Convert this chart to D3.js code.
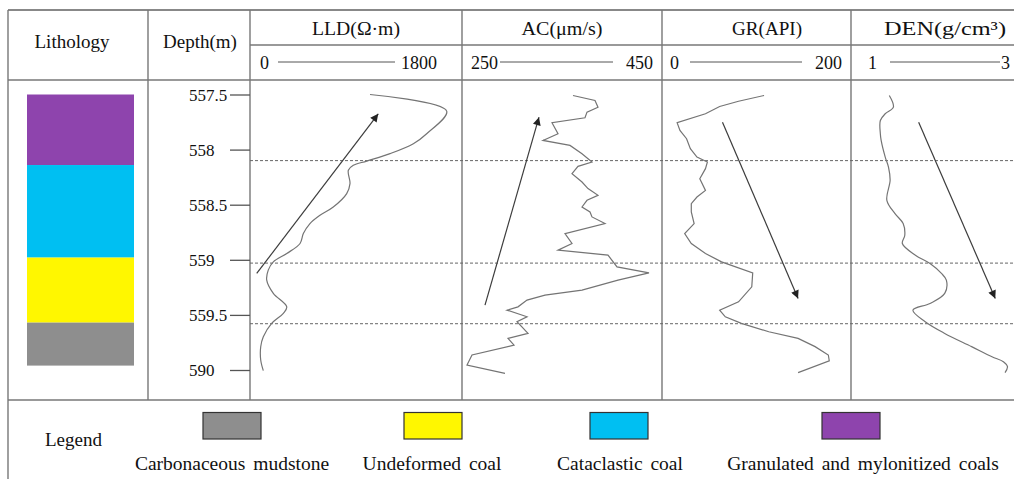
<!DOCTYPE html>
<html>
<head>
<meta charset="utf-8">
<script src="https://d3js.org/d3.v7.min.js"></script>
<style>
  body { margin: 0; background: #fff; }
  text { font-family: "Liberation Serif", "Times New Roman", "DejaVu Serif", serif; fill: #111; }
  .grid { stroke: #777; stroke-width: 1.4; fill: none; }
  .curve { fill: none; stroke: #747474; stroke-width: 1.2; }
  .arrow { stroke: #3c3c3c; stroke-width: 1.2; }
  .dash { stroke: #666; stroke-width: 1; stroke-dasharray: 3 2; }
</style>
</head>
<body>
<svg width="1014" height="479"></svg>
<script>
// ---- data ----
const depthTicks = [557.5, 558, 558.5, 559, 559.5, 560];
const depthTickLabels = ["557.5", "558", "558.5", "559", "559.5", "590"];
const boundaryDepths = [558.1, 559.03, 559.58];

const lithNames = ["Granulated and mylonitized coals", "Cataclastic coal", "Undeformed coal", "Carbonaceous mudstone"];
const lithFrom = [557.5, 558.14, 558.98, 559.57];
const lithTo = [558.14, 558.98, 559.57, 559.96];
const legendOrder = ["Carbonaceous mudstone", "Undeformed coal", "Cataclastic coal", "Granulated and mylonitized coals"];

const trackNames = ["LLD(\u03A9\u00B7m)", "AC(\u03BCm/s)", "GR(API)", "DEN(g/cm\u00B3)"];
const trackMin = [0, 250, 0, 1];
const trackMax = [1800, 450, 200, 3];

const lldDepth = [557.5, 557.651, 557.856, 557.947, 558.037, 558.104, 558.143, 558.188, 558.309, 558.399, 558.521, 558.596, 558.671, 558.762, 558.852, 558.943, 559.019, 559.094, 559.185, 559.305, 559.427, 559.486, 559.577, 559.698, 559.789, 559.909, 560.006];
const lldValue = [1019, 1670, 1500, 1387, 1189, 991, 877, 835, 849, 821, 707, 594, 509, 453, 425, 312, 198, 155, 142, 198, 312, 283, 184, 113, 91, 91, 113];

const acDepth = [557.509, 557.554, 557.615, 557.660, 557.711, 557.756, 557.856, 557.917, 557.962, 558.037, 558.113, 558.152, 558.218, 558.294, 558.354, 558.415, 558.460, 558.521, 558.566, 558.611, 558.671, 558.762, 558.852, 558.913, 558.958, 559.064, 559.119, 559.185, 559.275, 559.321, 559.366, 559.427, 559.457, 559.517, 559.562, 559.668, 559.713, 559.774, 559.864, 559.955, 560.030];
const acValue = [361, 383, 386, 375, 373, 340, 346, 331, 358, 370, 380, 366, 360, 370, 376, 386, 375, 370, 378, 380, 393, 353, 360, 346, 396, 405, 437, 406, 370, 333, 315, 306, 295, 315, 305, 316, 296, 302, 260, 255, 293];

const grDepth = [557.509, 557.561, 557.609, 557.675, 557.756, 557.826, 557.901, 557.992, 558.068, 558.113, 558.173, 558.264, 558.370, 558.430, 558.490, 558.566, 558.671, 558.762, 558.852, 558.943, 559.019, 559.119, 559.245, 559.381, 559.457, 559.517, 559.577, 559.653, 559.713, 559.788, 559.864, 559.916, 560.024];
const grValue = [108, 81, 61, 46, 16, 19, 26, 30, 37, 48, 46, 40, 46, 37, 31, 31, 34, 24, 31, 46, 63, 96, 95, 81, 61, 67, 84, 113, 144, 162, 176, 177, 144];

const denDepth = [557.509, 557.615, 557.675, 557.736, 557.856, 557.917, 558.068, 558.159, 558.279, 558.460, 558.581, 558.671, 558.777, 558.852, 558.958, 559.034, 559.124, 559.185, 559.305, 559.396, 559.457, 559.562, 559.668, 559.788, 559.880, 559.925, 559.970, 560.024];
const denValue = [1.47, 1.52, 1.42, 1.36, 1.36, 1.37, 1.42, 1.46, 1.48, 1.44, 1.54, 1.64, 1.66, 1.63, 1.79, 1.97, 2.11, 2.17, 2.15, 1.97, 1.76, 1.91, 2.15, 2.48, 2.73, 2.87, 2.92, 2.89];

// trend arrows: [value, depth] start -> end
const arrowFrom = [[57, 559.124], [273, 559.411], [64, 557.751], [1.83, 557.751]];
const arrowTo = [[1089, 557.675], [327, 557.706], [144, 559.351], [2.77, 559.351]];

// ---- layout ----
const W = 1014, H = 479;
const frameL = 8, frameT = 10, rowMid = 45, headBot = 80, legTop = 400;
const colLith = [frameL, 148], colDepth = [148, 250];
const trackEdges = [250, 462, 662, 851, 1014];
const titleX = [356, 562, 767, 945];
const titleLen = [88, 81, 70, 122];
// header scale row offsets: label left pad, line start, line end (from right), label right pad
const headPad = [[10, 28, 67, 25], [9, 38, 49, 9], [8, 28, 49, 9], [17, 39, 14, 4]];

const lithColor = d3.scaleOrdinal()
  .domain(["Granulated and mylonitized coals", "Cataclastic coal", "Undeformed coal", "Carbonaceous mudstone"])
  .range(["#8e44ad", "#00bff2", "#fff700", "#8e8e8e"]);

const svg = d3.select("svg");
const y = d3.scaleLinear().domain([557.5, 560]).range([94.5, 370]);

// grid lines
const g = svg.append("g").attr("class", "grid");
g.append("line").attr("x1", frameL).attr("x2", W).attr("y1", frameT).attr("y2", frameT).style("stroke-width", 2).style("stroke", "#888");
g.append("line").attr("x1", frameL).attr("x2", frameL).attr("y1", frameT).attr("y2", H);
g.append("line").attr("x1", trackEdges[0]).attr("x2", W).attr("y1", rowMid).attr("y2", rowMid);
g.append("line").attr("x1", frameL).attr("x2", W).attr("y1", headBot).attr("y2", headBot);
g.append("line").attr("x1", frameL).attr("x2", W).attr("y1", legTop).attr("y2", legTop);
[colLith[1], colDepth[1], ...trackEdges.slice(1, 4)].forEach(x => {
  g.append("line").attr("x1", x).attr("x2", x).attr("y1", frameT).attr("y2", legTop);
});

// header titles
svg.append("text").attr("x", 72).attr("y", 48).attr("text-anchor", "middle")
  .style("font-size", "19px").text("Lithology");
svg.append("text").attr("x", 200).attr("y", 48).attr("text-anchor", "middle")
  .style("font-size", "19px").text("Depth(m)");

trackNames.forEach((name, i) => {
  const a = trackEdges[i], b = trackEdges[i + 1];
  const p = headPad[i];
  svg.append("text").attr("x", titleX[i]).attr("y", 35).attr("text-anchor", "middle")
    .attr("textLength", titleLen[i]).attr("lengthAdjust", "spacingAndGlyphs")
    .style("font-size", "19px").text(name);
  svg.append("text").attr("x", a + p[0]).attr("y", 69).style("font-size", "18px").text(trackMin[i]);
  svg.append("text").attr("x", b - p[3]).attr("y", 69).attr("text-anchor", "end").style("font-size", "18px").text(trackMax[i]);
  svg.append("line").attr("x1", a + p[1]).attr("x2", b - p[2]).attr("y1", 62).attr("y2", 62)
    .attr("stroke", "#555").attr("stroke-width", 1);
});

// lithology column
svg.append("g").selectAll("rect")
  .data(lithNames)
  .join("rect")
  .attr("x", 27).attr("width", 107)
  .attr("y", (d, i) => y(lithFrom[i]))
  .attr("height", (d, i) => y(lithTo[i]) - y(lithFrom[i]))
  .attr("fill", d => lithColor(d));

// depth axis
const axis = d3.axisLeft(y).tickValues(depthTicks).tickSize(20).tickFormat("");
const ax = svg.append("g").attr("transform", `translate(${colDepth[1]},0)`).call(axis);
ax.select(".domain").remove();
ax.selectAll(".tick line").attr("stroke", "#555").attr("stroke-width", 1.3);
svg.append("g").selectAll("text")
  .data(depthTicks)
  .join("text")
  .attr("x", 189).attr("y", d => y(d) + 6)
  .style("font-size", "17px")
  .text((d, i) => depthTickLabels[i]);

// boundary dashed lines
svg.append("g").selectAll("line")
  .data(boundaryDepths)
  .join("line")
  .attr("class", "dash")
  .attr("x1", trackEdges[0]).attr("x2", W)
  .attr("y1", d => y(d)).attr("y2", d => y(d));

// arrow marker
svg.append("defs").append("marker")
  .attr("id", "head").attr("viewBox", "0 0 10 10")
  .attr("refX", 10).attr("refY", 5)
  .attr("markerWidth", 10).attr("markerHeight", 8)
  .attr("markerUnits", "userSpaceOnUse")
  .attr("orient", "auto")
  .append("path").attr("d", "M0,0L10,5L0,10Z").attr("fill", "#222");

// log curves
const series = [[lldDepth, lldValue], [acDepth, acValue], [grDepth, grValue], [denDepth, denValue]];
const curves = [d3.curveCatmullRom, d3.curveLinear, d3.curveLinear, d3.curveCatmullRom];
series.forEach(([dep, val], i) => {
  const x = d3.scaleLinear().domain([trackMin[i], trackMax[i]]).range([trackEdges[i], trackEdges[i + 1]]);
  const line = d3.line().x(d => x(d[0])).y(d => y(d[1])).curve(curves[i]);
  svg.append("path").attr("class", "curve").attr("d", line(val.map((v, k) => [v, dep[k]])));
  svg.append("line").attr("class", "arrow")
    .attr("x1", x(arrowFrom[i][0])).attr("y1", y(arrowFrom[i][1]))
    .attr("x2", x(arrowTo[i][0])).attr("y2", y(arrowTo[i][1]))
    .attr("marker-end", "url(#head)");
});

// legend
svg.append("text").attr("x", 45).attr("y", 446).style("font-size", "19px").text("Legend");
const legX = [232, 433, 619, 851];
const legLabelX = [232, 432, 620, 863];
legendOrder.forEach((name, i) => {
  svg.append("rect").attr("x", legX[i] - 29).attr("y", 412.5).attr("width", 58).attr("height", 26.5)
    .attr("fill", lithColor(name)).attr("stroke", "#333").attr("stroke-width", 1.2);
  svg.append("text").attr("x", legLabelX[i]).attr("y", 470).attr("text-anchor", "middle")
    .style("font-size", "19.5px").style("word-spacing", "3px").text(name);
});
</script>
</body>
</html>
